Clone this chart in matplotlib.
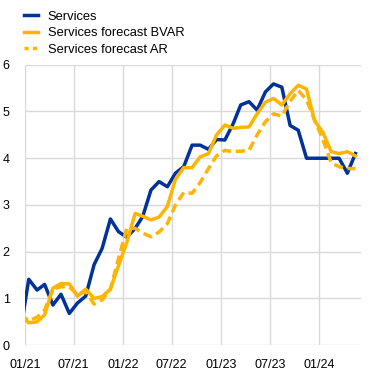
import matplotlib
matplotlib.use("Agg")
import matplotlib.pyplot as plt
import matplotlib.dates as mdates
import pandas as pd
import numpy as np

plt.rcParams["font.family"] = ["Liberation Sans", "DejaVu Sans"]

# monthly observations, Dec 2020 - May 2024 (first point sits just left of the axis)
months = pd.date_range("2020-12-01", periods=42, freq="MS") + pd.Timedelta(days=14)

services = [0.3, 1.41, 1.18, 1.3, 0.86, 1.09, 0.68, 0.9, 1.05, 1.72, 2.07, 2.7,
            2.43, 2.31, 2.5, 2.75, 3.32, 3.5, 3.39, 3.68, 3.82, 4.28, 4.28, 4.19,
            4.4, 4.39, 4.74, 5.14, 5.21, 5.03, 5.42, 5.59, 5.52, 4.7, 4.6, 4.0,
            4.0, 4.0, 4.0, 4.0, 3.68, 4.1]
forecast_bvar = [0.65, 0.48, 0.5, 0.65, 1.22, 1.32, 1.31, 1.05, 1.2, 1.0, 1.04, 1.2,
                 1.7, 2.2, 2.82, 2.76, 2.68, 2.74, 2.97, 3.55, 3.8, 3.8, 4.03, 4.1,
                 4.5, 4.71, 4.64, 4.66, 4.67, 4.95, 5.2, 5.28, 5.14, 5.38, 5.56, 5.48,
                 4.8, 4.55, 4.14, 4.1, 4.14, 4.05]
forecast_ar = [0.65, 0.52, 0.6, 0.75, 1.2, 1.25, 1.25, 1.08, 1.15, 0.88, 0.97, 1.2,
               1.85, 2.5, 2.5, 2.4, 2.32, 2.42, 2.6, 3.0, 3.27, 3.25, 3.48, 3.78,
               4.05, 4.17, 4.14, 4.15, 4.17, 4.5, 4.78, 4.95, 4.9, 5.22, 5.45, 5.25,
               4.82, 4.4, 3.9, 3.82, 3.78, 3.78]

tick_dates = pd.date_range("2021-01-01", "2024-01-01", freq="6MS")

BLUE = "#003299"
YELLOW = "#FFB400"

fig = plt.figure(figsize=(3.73, 3.70), dpi=100)
ax = fig.add_axes([0.067, 0.067, 0.901, 0.758])

lw = 2.5
ax.plot(months, services, color=BLUE, lw=lw, label="Services")
ax.plot(months, forecast_bvar, color=YELLOW, lw=lw, label="Services forecast BVAR")
ax.plot(months, forecast_ar, color=YELLOW, lw=lw, dashes=(2.6, 1.4),
        label="Services forecast AR")

ax.set_ylim(0, 6)
ax.set_xlim(pd.Timestamp("2021-01-01"), pd.Timestamp("2024-06-05"))
ax.set_xticks(tick_dates)
ax.xaxis.set_major_formatter(mdates.DateFormatter("%m/%y"))
ax.set_yticks(range(0, 7))

ax.grid(True, color="#d9d9d9", lw=1)
ax.set_axisbelow(True)
for s in ax.spines.values():
    s.set_visible(False)
ax.tick_params(length=0, labelsize=9, colors="black")
ax.tick_params(axis="y", pad=11)
ax.tick_params(axis="x", pad=10)

leg = fig.legend(loc="upper left", bbox_to_anchor=(0.04, 0.995), frameon=False, fontsize=9.3,
                 handlelength=1.05, handletextpad=0.8, labelspacing=0.33, borderaxespad=0.3)
leg.get_lines()[2].set_dashes((1.2, 1.2))

fig.savefig("out.png", dpi=100)
